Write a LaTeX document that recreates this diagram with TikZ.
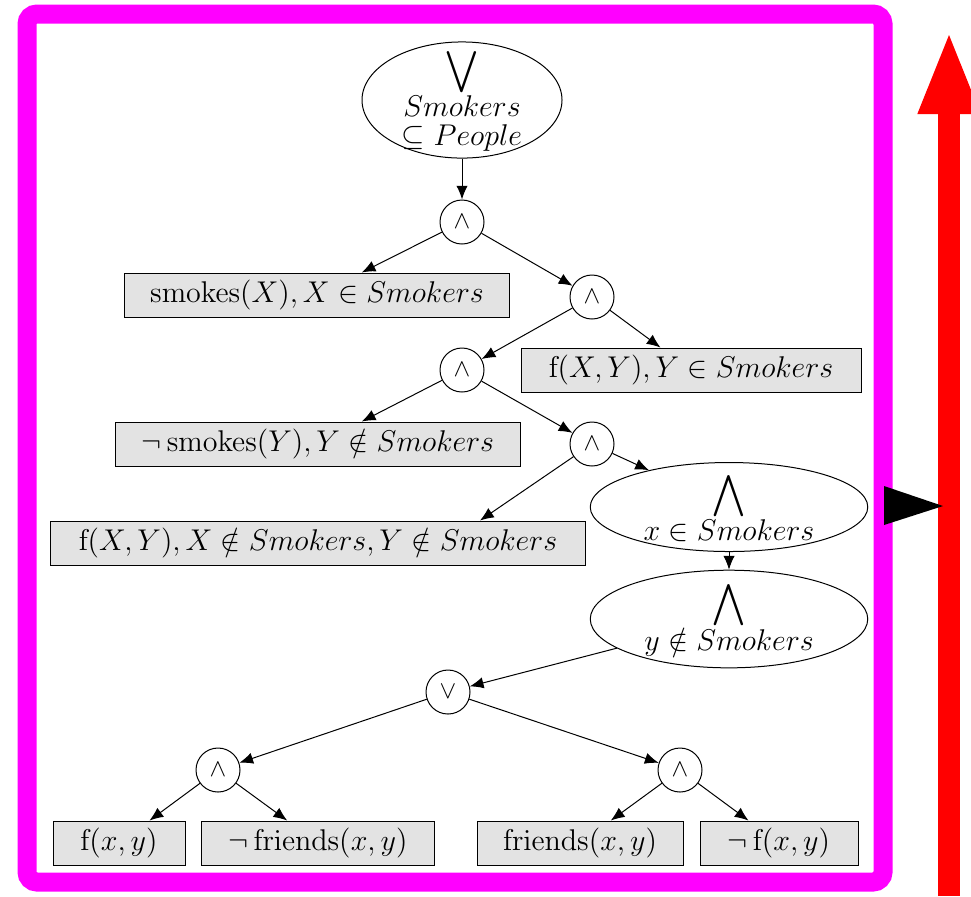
\documentclass[tikz,border=0pt]{standalone}
\usepackage{amsmath,amssymb}
\usetikzlibrary{arrows.meta, shapes.geometric, calc}
\definecolor{framemag}{RGB}{255,0,255}
\definecolor{sidered}{RGB}{255,0,0}

\tikzset{
  opnode/.style={circle, draw, thin, minimum size=17.6pt, inner sep=0pt},
  quantnode/.style={ellipse, draw, thin, inner xsep=0pt, align=center, font=\fontsize{11.8pt}{14pt}\selectfont},
  leafbox/.style={rectangle, draw, fill=gray!22, minimum height=17.6pt, inner sep=0pt, font=\fontsize{11.8pt}{14pt}\selectfont},
  treearrow/.style={-{Latex[length=5.5pt, width=4.5pt]}, thin}
}

\begin{document}
\begin{tikzpicture}[x=0.4pt, y=-0.4pt]
  \useasboundingbox (0,0) rectangle (971,896);
  % frame and side arrows
  \draw[framemag, line width=7.6pt, rounded corners=4pt] (27,14) rectangle (883,882);
  \draw[sidered, line width=8.8pt, -{Triangle[length=33.6pt, width=22.4pt]}] (949,896) -- (949,30);
  \fill (884,486) -- (943,506) -- (884,525) -- cycle;

  % quantifier nodes
  \node[quantnode, inner ysep=-4.1pt, minimum width=80pt, minimum height=46pt] (root) at (462,100)
    {$\displaystyle\bigvee$\\[-1pt]$Smokers$\\[-2.5pt]$\subseteq People$};
  \node[quantnode, inner ysep=-1.3pt, minimum width=111pt, minimum height=35.6pt] (allx) at (729,507)
    {$\displaystyle\bigwedge$\\[-1pt]$x \in Smokers$};
  \node[quantnode, inner ysep=-1.3pt, minimum width=111pt, minimum height=35.2pt] (ally) at (729,619)
    {$\displaystyle\bigwedge$\\[-1pt]$y \notin Smokers$};

  % connectives
  \node[opnode] (and1) at (462,222) {$\wedge$};
  \node[opnode] (and2) at (592,297) {$\wedge$};
  \node[opnode] (and3) at (462,370) {$\wedge$};
  \node[opnode] (and4) at (592,444) {$\wedge$};
  \node[opnode] (or1)  at (448,692) {$\vee$};
  \node[opnode] (and5) at (218,770) {$\wedge$};
  \node[opnode] (and6) at (680,770) {$\wedge$};

  % literals
  \node[leafbox, minimum width=154pt] (smx) at (317,295) {$\mathrm{smokes}(X), X \in Smokers$};
  \node[leafbox, minimum width=136pt] (fxy) at (691,370) {$\mathrm{f}(X,Y), Y \in Smokers$};
  \node[leafbox, minimum width=162pt] (nsmy) at (318,444) {$\neg\,\mathrm{smokes}(Y), Y \notin Smokers$};
  \node[leafbox, minimum width=214pt] (fnn) at (318,543) {$\mathrm{f}(X,Y), X \notin Smokers, Y \notin Smokers$};
  \node[leafbox, minimum width=52.8pt] (lf1) at (119,843) {$\mathrm{f}(x,y)$};
  \node[leafbox, minimum width=93.2pt] (lf2) at (318,843) {$\neg\,\mathrm{friends}(x,y)$};
  \node[leafbox, minimum width=82.4pt] (lf3) at (580,843) {$\mathrm{friends}(x,y)$};
  \node[leafbox, minimum width=63.2pt] (lf4) at (779,843) {$\neg\,\mathrm{f}(x,y)$};

  % edges
  \draw[treearrow] (root) -- (and1);
  \draw[treearrow] (and1) -- (smx);
  \draw[treearrow] (and1) -- (and2);
  \draw[treearrow] (and2) -- (and3);
  \draw[treearrow] (and2) -- (fxy);
  \draw[treearrow] (and3) -- (nsmy);
  \draw[treearrow] (and3) -- (and4);
  \draw[treearrow] (and4) -- ($(fnn.north)+(162,0)$);
  \draw[treearrow] (and4) -- (allx);
  \draw[treearrow] (allx) -- (ally);
  \draw[treearrow] (ally) -- (or1);
  \draw[treearrow] (or1) -- (and5);
  \draw[treearrow] (or1) -- (and6);
  \draw[treearrow] (and5) -- (lf1);
  \draw[treearrow] (and5) -- (lf2);
  \draw[treearrow] (and6) -- (lf3);
  \draw[treearrow] (and6) -- (lf4);
\end{tikzpicture}
\end{document}
